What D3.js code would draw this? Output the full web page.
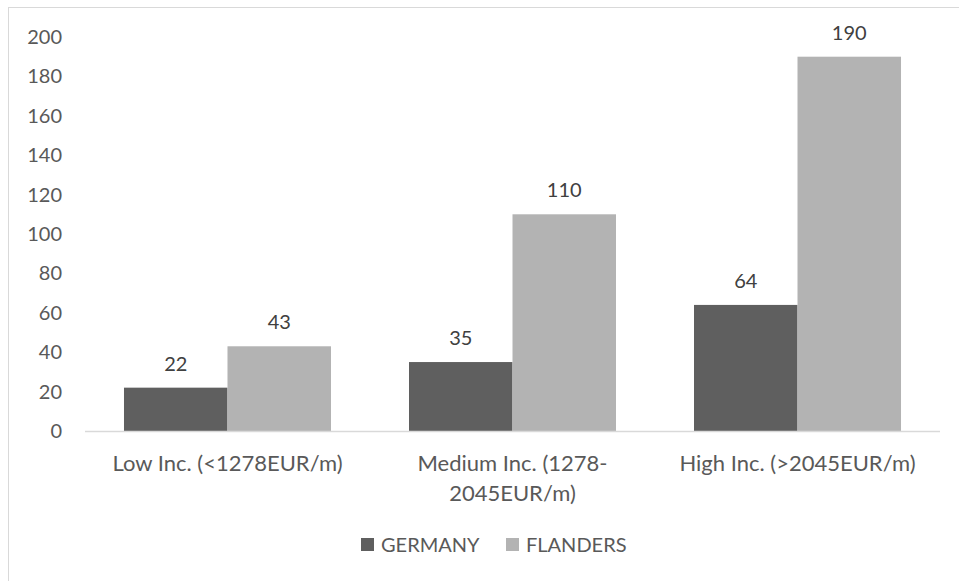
<!DOCTYPE html>
<html>
<head>
<meta charset="utf-8">
<script src="https://cdn.jsdelivr.net/npm/d3@7"></script>
<style>
  html, body { margin: 0; padding: 0; background: #fff; }
  svg { display: block; }
  text { font-family: Lato, "Open Sans", sans-serif; }
</style>
</head>
<body>
<svg id="chart" width="959" height="581"></svg>
<script>
// Income groups and the two series
const categories = ["Low Inc. (<1278EUR/m)", "Medium Inc. (1278-2045EUR/m)", "High Inc. (>2045EUR/m)"];
const seriesNames = ["GERMANY", "FLANDERS"];
const germany = [22, 35, 64];
const flanders = [43, 110, 190];
const yTicks = [0, 20, 40, 60, 80, 100, 120, 140, 160, 180, 200];

const colors = { GERMANY: "#5f5f5f", FLANDERS: "#b3b3b3" };
const seriesValues = { GERMANY: germany, FLANDERS: flanders };

const svg = d3.select("#chart");
const W = 959, H = 581;
const FONT = 20;
const CAT_FONT = 22;

// Chart frame (extends past the right and bottom edges of the view)
svg.append("rect")
  .attr("x", 8.5).attr("y", 7.5)
  .attr("width", W + 20).attr("height", H + 20)
  .attr("fill", "#fff").attr("stroke", "#d9d9d9").attr("stroke-width", 1);

const plot = { left: 85, right: 940, top: 37, bottom: 431 };

const x0 = d3.scaleBand()
  .domain(categories)
  .range([plot.left, plot.right])
  .paddingInner(0.2737)
  .paddingOuter(0.1368);

const x1 = d3.scaleBand()
  .domain(seriesNames)
  .range([0, x0.bandwidth()])
  .padding(0);

const y = d3.scaleLinear()
  .domain([0, 200])
  .range([plot.bottom, plot.top]);

// Y axis labels (no line, no ticks)
const yAxis = d3.axisLeft(y).tickValues(yTicks).tickSize(0).tickPadding(23);
const gy = svg.append("g").attr("transform", `translate(${plot.left},0)`).call(yAxis);
gy.select(".domain").remove();
gy.selectAll("text")
  .attr("fill", "#595959")
  .style("font-size", FONT + "px")
  .style("font-family", "Lato, 'Open Sans', sans-serif");

// Bars
const rows = categories.map((c, i) => ({
  category: c,
  values: seriesNames.map(s => ({ series: s, value: seriesValues[s][i] }))
}));

const groups = svg.append("g").selectAll("g")
  .data(rows).join("g")
  .attr("transform", d => `translate(${x0(d.category)},0)`);

groups.selectAll("rect")
  .data(d => d.values).join("rect")
  .attr("x", d => x1(d.series))
  .attr("y", d => y(d.value))
  .attr("width", x1.bandwidth())
  .attr("height", d => y(0) - y(d.value))
  .attr("fill", d => colors[d.series]);

// Value labels
groups.selectAll("text.value")
  .data(d => d.values).join("text")
  .attr("class", "value")
  .attr("x", d => x1(d.series) + x1.bandwidth() / 2)
  .attr("y", d => y(d.value) - 17)
  .attr("text-anchor", "middle")
  .attr("fill", "#404040")
  .style("font-size", FONT + "px")
  .text(d => d.value);

// X axis baseline
svg.append("line")
  .attr("x1", plot.left).attr("x2", plot.right)
  .attr("y1", y(0) + 0.5).attr("y2", y(0) + 0.5)
  .attr("stroke", "#d9d9d9").attr("stroke-width", 1.5);

// Category labels, wrapped after a hyphen when wider than the band
const catG = svg.append("g");
categories.forEach(c => {
  const t = catG.append("text")
    .attr("x", x0(c) + x0.bandwidth() / 2)
    .attr("y", 471)
    .attr("text-anchor", "middle")
    .attr("fill", "#595959")
    .style("font-size", CAT_FONT + "px")
    .text(c);
  const maxW = x0.step() - 10;
  if (t.node().getComputedTextLength() > maxW) {
    const cut = c.lastIndexOf("-");
    const parts = cut > 0 ? [c.slice(0, cut + 1), c.slice(cut + 1)] : c.split(" ");
    t.text(null);
    parts.forEach((p, i) => {
      t.append("tspan")
        .attr("x", x0(c) + x0.bandwidth() / 2)
        .attr("dy", i === 0 ? 0 : 30)
        .text(p);
    });
  }
});

// Legend
const legend = svg.append("g").attr("transform", "translate(361,538)");
const legendItems = [
  { name: seriesNames[0], x: 0 },
  { name: seriesNames[1], x: 145 }
];
legendItems.forEach(it => {
  legend.append("rect")
    .attr("x", it.x).attr("y", 0)
    .attr("width", 13).attr("height", 13)
    .attr("fill", colors[it.name]);
  legend.append("text")
    .attr("x", it.x + 20).attr("y", 14)
    .attr("fill", "#595959")
    .style("font-size", FONT + "px")
    .text(it.name);
});
</script>
</body>
</html>
